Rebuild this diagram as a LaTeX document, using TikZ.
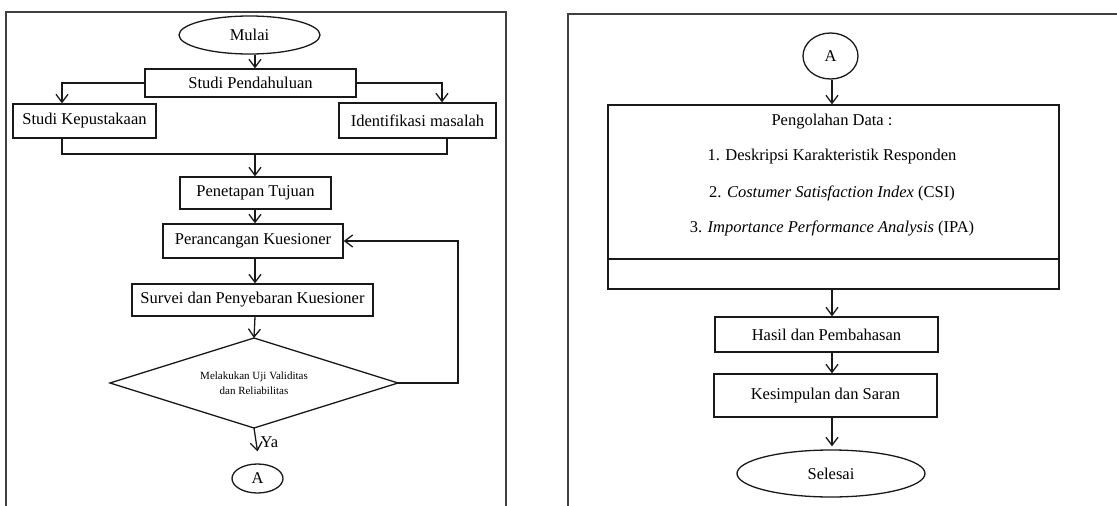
\documentclass[tikz,border=0pt]{standalone}
\usepackage{fontspec}
\setmainfont{Liberation Serif}
\usetikzlibrary{shapes.geometric,arrows.meta,calc}
\begin{document}
\begin{tikzpicture}[x=1pt,y=-1pt,
  line width=1.3pt,
  txt/.style={font=\fontsize{16.5}{18}\selectfont},
  box/.style={draw=black!90, rectangle, inner sep=0pt, txt},
  oval/.style={draw=black!90, ellipse, inner sep=0pt, txt},
  arr/.style={draw=black!90, -{Straight Barb[length=8pt,width=12pt]}},
  conn/.style={draw=black!90},
  frame/.style={draw=black!75, line width=1.2pt}]
\useasboundingbox (0,0) rectangle (1117,506);

% frames
\draw[frame] (6,506) -- (6,12) -- (506,12) -- (506,506);
\draw[frame] (568,506) -- (568,14) -- (1117,14);

% ---------- left panel ----------
\coordinate (spine) at (255,0);
\coordinate (kl) at (62,0);
\coordinate (kr) at (442,0);
\coordinate (kr2) at (447,0);
\coordinate (mg) at (255,154);
\coordinate (fb) at (458,0);

\node[oval, minimum width=141pt, minimum height=38pt] (mulai) at (249.5,35) {Mulai};
\node[box, minimum width=211pt, minimum height=28pt] (sp) at (250.5,83) {Studi Pendahuluan};
\node[box, minimum width=143pt, minimum height=34pt] (sk) at (84.5,121) {Studi Kepustakaan};
\node[box, minimum width=157pt, minimum height=35pt] (im) at (417.5,120.5) {Identifikasi masalah};
\node[box, minimum width=151pt, minimum height=32pt] (pt) at (255.5,193) {Penetapan Tujuan};
\node[box, minimum width=180pt, minimum height=34pt] (pk) at (253,241) {Perancangan Kuesioner};
\node[box, minimum width=241pt, minimum height=32pt] (sv) at (252.5,300) {Survei dan Penyebaran Kuesioner};

% decision diamond
\coordinate (dT) at (254,338);
\coordinate (dB) at (254,428);
\coordinate (dL) at (110,383);
\coordinate (dR) at (398,383);
\draw[conn] (dT) -- (dR) -- (dB) -- (dL) -- cycle;
\node[font=\fontsize{11}{15}\selectfont, align=center] (dm) at (254,383) {Melakukan Uji Validitas\\dan Reliabilitas};

\node[oval, minimum width=51pt, minimum height=29pt] (a1) at (257.5,478.5) {A};

\draw[arr] (spine |- mulai.south) -- (spine |- sp.north);
\draw[arr] (sp.west) -| (kl |- sk.north);
\draw[arr] (sp.east) -| (kr |- im.north);
\draw[conn] (kl |- sk.south) |- (mg);
\draw[conn] (kr2 |- im.south) |- (mg);
\draw[arr] (mg) -- (spine |- pt.north);
\draw[arr] (spine |- pt.south) -- (spine |- pk.north);
\draw[arr] (spine |- pk.south) -- (spine |- sv.north);
\draw[arr] (spine |- sv.south) -- (dT);
\draw[arr] (dR) -| (fb |- pk.east) -- (pk.east);
\draw[arr] (dB) -- ($(a1.north)+(0,-12)$) node[midway, right, txt, xshift=1pt, yshift=-2pt] {Ya};

% ---------- right panel ----------
\coordinate (rs) at (832,0);

\node[oval, minimum width=55pt, minimum height=46pt] (a2) at (830.5,56) {A};
\node[draw=black!90, rectangle, inner sep=0pt, minimum width=451pt, minimum height=184pt] (pd) at (833.5,197) {};
\draw[conn] (608,259) -- (1059,259);
\node[txt] (pd0) at (832,122) {Pengolahan Data :};
\node[txt] (pd1) at (832,157) {1. Deskripsi Karakteristik Responden};
\node[txt] (pd2) at (832,193) {2. \textit{Costumer Satisfaction Index} (CSI)};
\node[txt] (pd3) at (832,228) {3. \textit{Importance Performance Analysis} (IPA)};

\node[box, minimum width=223pt, minimum height=35pt] (hp) at (826.5,334.5) {Hasil dan Pembahasan};
\node[box, minimum width=223pt, minimum height=43pt] (ks) at (825.5,395.5) {Kesimpulan dan Saran};
\node[oval, minimum width=188pt, minimum height=47pt] (sl) at (831,473.5) {Selesai};

\draw[arr] (rs |- a2.south) -- (rs |- pd.north);
\draw[arr] (rs |- pd.south) -- (rs |- hp.north);
\draw[arr] (rs |- hp.south) -- (rs |- ks.north);
\draw[arr] (rs |- ks.south) -- ($(rs |- sl.north)+(0,-3)$);
\end{tikzpicture}
\end{document}
